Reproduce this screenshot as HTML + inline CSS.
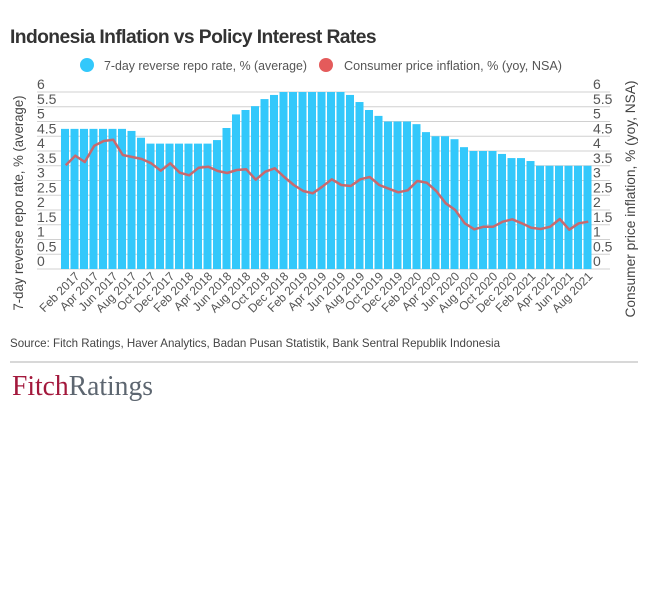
<!DOCTYPE html>
<html><head><meta charset="utf-8"><style>
body{margin:0;background:#fff;}
svg{display:block;font-family:"Liberation Sans",sans-serif;}
</style></head><body>
<svg width="648" height="602" viewBox="0 0 648 602" xmlns="http://www.w3.org/2000/svg">
<text x="10" y="43" font-size="19.5" font-weight="bold" fill="#333" letter-spacing="-0.6" textLength="366" lengthAdjust="spacingAndGlyphs">Indonesia Inflation vs Policy Interest Rates</text>
<circle cx="87" cy="65" r="7" fill="#33c8fb"/>
<text x="104" y="70" font-size="13" fill="#555" textLength="203" lengthAdjust="spacingAndGlyphs">7-day reverse repo rate, % (average)</text>
<circle cx="326" cy="65" r="7" fill="#e45b5b"/>
<text x="344" y="70" font-size="13" fill="#555" textLength="218" lengthAdjust="spacingAndGlyphs">Consumer price inflation, % (yoy, NSA)</text>
<g id="grid" stroke="#d0d0d0" stroke-width="1"></g>
<g id="bars" fill="#33c8fb"></g>
<polyline id="cpi" fill="none" stroke="#c8696e" stroke-width="2.5" stroke-linejoin="round"/>
<g id="ylab" font-size="14" fill="#555"></g>
<g id="xlab" font-size="12" fill="#555"></g>
<text transform="translate(23,203) rotate(-90)" text-anchor="middle" font-size="14" fill="#444" textLength="215" lengthAdjust="spacingAndGlyphs">7-day reverse repo rate, % (average)</text>
<text transform="translate(635,199) rotate(-90)" text-anchor="middle" font-size="14" fill="#444" textLength="237" lengthAdjust="spacingAndGlyphs">Consumer price inflation, % (yoy, NSA)</text>
<text x="10" y="347" font-size="12" fill="#444" textLength="490" lengthAdjust="spacingAndGlyphs">Source: Fitch Ratings, Haver Analytics, Badan Pusan Statistik, Bank Sentral Republik Indonesia</text>
<line x1="10" y1="362" x2="638" y2="362" stroke="#ccc" stroke-width="1.5"/>
<text x="12" y="395" font-family="Liberation Serif,serif" font-size="28" textLength="141" lengthAdjust="spacingAndGlyphs"><tspan fill="#a3183c">Fitch</tspan><tspan fill="#5d6670">Ratings</tspan></text>
</svg>
<script>
var NS="http://www.w3.org/2000/svg";
function el(t,a,p,txt){var e=document.createElementNS(NS,t);for(var k in a)e.setAttribute(k,a[k]);if(txt!=null)e.textContent=txt;document.getElementById(p).appendChild(e);return e;}
var Y=function(v){return 269-29.5*v;};
for(var i=0;i<=12;i++){var v=i/2,y=Y(v);
 el('line',{x1:37,x2:610,y1:y,y2:y},'grid');
 var s=(v%1===0)?String(v):v.toFixed(1);
 el('text',{x:37,y:y-3},'ylab',s);
 el('text',{x:593,y:y-3},'ylab',s);}
var r=[4.75,4.75,4.75,4.75,4.75,4.75,4.75,4.68,4.45,4.25,4.25,4.25,4.25,4.25,4.25,4.25,4.37,4.78,5.24,5.39,5.52,5.76,5.9,6,6,6,6,6,6,6,5.9,5.66,5.39,5.19,5,5,5,4.91,4.64,4.5,4.5,4.4,4.13,4,4,4,3.9,3.76,3.76,3.66,3.5,3.5,3.5,3.5,3.5,3.5];
var cy=[165.3,155.7,162,145.7,141,139.7,155,157,159,163.3,170.7,163.3,172.7,175.3,167.7,166.7,171,173,170,169.3,179.7,171.7,168.3,177,185,191,193.3,186.7,179.3,185,186,179.3,177,185,188.7,192.3,190.3,181,182.7,191,203.3,210,223.3,229.3,226.7,226.7,221.7,219.3,223.3,227.7,229,226.7,219,229.7,223.3,221.7];
var m=["Jan","Feb","Mar","Apr","May","Jun","Jul","Aug","Sep","Oct","Nov","Dec"];
var pts=[];
for(var i=0;i<56;i++){var x=61+9.5*i;
 el('rect',{x:x,y:Y(r[i]),width:8,height:269-Y(r[i])},'bars');
 pts.push((x+4.75)+','+cy[i]);
 if(i%2==1){var cx=x+4.75+5;var t=el('text',{x:cx,y:277,'text-anchor':'end',transform:'rotate(-45 '+cx+' 277)'},'xlab',m[i%12]+' '+(2017+Math.floor(i/12)));}}
document.getElementById('cpi').setAttribute('points',pts.join(' '));
</script>
</body></html>
